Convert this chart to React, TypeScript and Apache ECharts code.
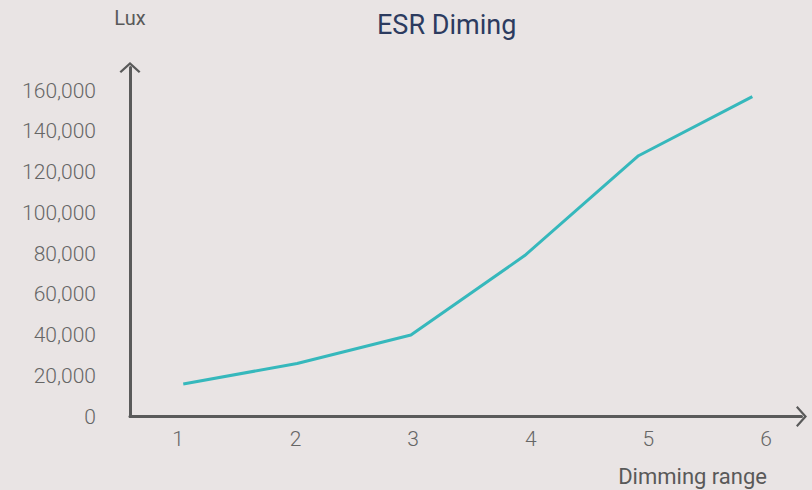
import React, { useEffect, useRef } from "react";
import * as echarts from "echarts";

const xCategories = [1, 2, 3, 4, 5, 6];
const luxValues = [16000, 26000, 40000, 79000, 128000, 157000];
const yTicks = [0, 20000, 40000, 60000, 80000, 100000, 120000, 140000, 160000];

const CHEVRON = "path://M0,9.4 L10.5,0 L21,9.4 L19.4,11 L10.5,3 L1.6,11 Z";

export default function App() {
  const ref = useRef<HTMLDivElement>(null);
  useEffect(() => {
    document.body.style.margin = "0";
    const chart = echarts.init(ref.current!, null, { renderer: "svg" });
    const axisColor = "#5a5a5a";
    chart.setOption({
      animation: false,
      backgroundColor: "#e9e4e4",
      title: {
        text: "ESR Diming",
        left: 377,
        top: 11,
        padding: 0,
        textStyle: { fontFamily: "Roboto", fontSize: 27, fontWeight: 400, color: "#2c3b5f" },
      },
      grid: { left: 130, right: 10.5, top: 67.5, bottom: 73.5, containLabel: false },
      xAxis: [
        {
          type: "value",
          min: 0.592,
          max: 6.302,
          splitLine: { show: false },
          axisTick: { show: false },
          axisLine: {
            show: true,
            onZero: false,
            symbol: ["none", CHEVRON],
            symbolSize: [21, 11],
            lineStyle: { color: axisColor, width: 3 },
          },
          axisLabel: {
            customValues: xCategories,
            margin: 12,
            fontFamily: "Roboto",
            fontWeight: 300,
            fontSize: 21,
            color: "#666666",
            formatter: (v: number) => String(v),
          },
        },
        {
          type: "value",
          min: 0.532,
          max: 6.432,
          show: false,
        },
      ],
      yAxis: {
        type: "value",
        min: 0,
        max: 171300,
        splitLine: { show: false },
        axisTick: { show: false },
        name: "Lux",
        nameLocation: "end",
        nameGap: 40,
        nameTextStyle: { fontFamily: "Roboto", fontSize: 20, color: "#595959" },
        axisLine: {
          show: true,
          symbol: ["none", CHEVRON],
          symbolSize: [21, 11],
          lineStyle: { color: axisColor, width: 3 },
        },
        axisLabel: {
          customValues: yTicks,
          margin: 34,
          fontFamily: "Roboto",
          fontWeight: 300,
          fontSize: 21,
          color: "#666666",
          formatter: (v: number) => v.toLocaleString("en-US"),
        },
      },
      graphic: [
        {
          type: "text",
          right: 45,
          top: 465,
          style: {
            text: "Dimming range",
            fontFamily: "Roboto",
            fontSize: 22,
            fill: "#595959",
          },
        },
      ],
      series: [
        {
          type: "line",
          xAxisIndex: 1,
          data: xCategories.map((x, i) => [x, luxValues[i]]),
          showSymbol: false,
          lineStyle: { color: "#36b8bc", width: 3 },
          itemStyle: { color: "#36b8bc" },
        },
      ],
    });
    return () => chart.dispose();
  }, []);
  return <div ref={ref} style={{ width: 812, height: 490 }} />;
}
